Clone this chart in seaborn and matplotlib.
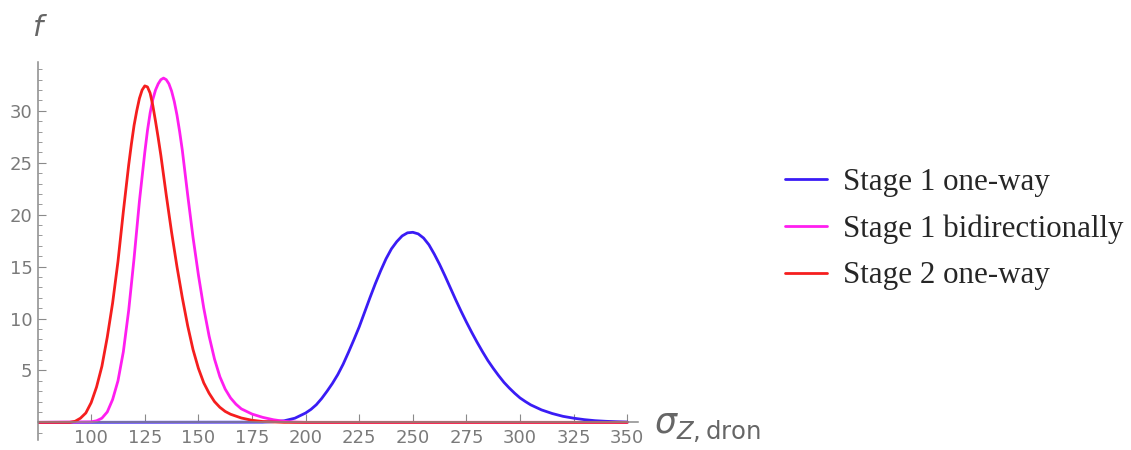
import numpy as np
import pandas as pd
import seaborn as sns
import matplotlib.pyplot as plt
from matplotlib.ticker import FixedLocator

# values
stage1_oneway_x = [75, 180, 185, 190, 195, 200, 202.5, 205, 207.5, 210, 212.5, 215, 217.5, 220, 222.5,
                   225, 227.5, 230, 232.5, 235, 237.5, 240, 242.5, 245, 247.5, 250, 252.5, 255, 257.5,
                   260, 262.5, 265, 267.5, 270, 272.5, 275, 277.5, 280, 282.5, 285, 287.5, 290, 292.5,
                   295, 297.5, 300, 302.5, 305, 310, 315, 320, 325, 330, 335, 340, 345, 350]
stage1_oneway_f = [0, 0.02, 0.06, 0.15, 0.4, 0.9, 1.25, 1.7, 2.3, 3.0, 3.75, 4.6, 5.6, 6.75, 7.95,
                   9.2, 10.6, 12.0, 13.35, 14.6, 15.75, 16.7, 17.4, 17.95, 18.25, 18.3, 18.15, 17.75, 17.1,
                   16.2, 15.2, 14.1, 12.95, 11.8, 10.7, 9.65, 8.65, 7.7, 6.8, 5.95, 5.2, 4.5, 3.85,
                   3.3, 2.8, 2.35, 2.0, 1.68, 1.2, 0.85, 0.58, 0.4, 0.26, 0.16, 0.1, 0.06, 0.03]

stage1_bidir_x = [75, 100, 102.5, 105, 107.5, 110, 112.5, 115, 117.5, 120, 122.5, 125, 126.25, 127.5,
                  128.75, 130, 131.25, 132.5, 133.75, 135, 136.25, 137.5, 138.75, 140, 141.25, 142.5,
                  145, 147.5, 150, 152.5, 155, 157.5, 160, 162.5, 165, 167.5, 170, 175, 180, 185, 190,
                  195, 200, 350]
stage1_bidir_f = [0, 0.05, 0.15, 0.4, 1.0, 2.2, 4.0, 6.8, 10.8, 15.8, 21.3, 26.0, 28.1, 29.8,
                  31.1, 32.0, 32.6, 33.0, 33.15, 33.0, 32.6, 31.9, 30.9, 29.6, 28.0, 26.2,
                  21.9, 17.8, 14.2, 11.0, 8.3, 6.1, 4.4, 3.2, 2.35, 1.75, 1.3, 0.8, 0.48, 0.25, 0.1,
                  0.03, 0, 0]

stage2_oneway_x = [75, 90, 92.5, 95, 97.5, 100, 102.5, 105, 107.5, 110, 112.5, 115, 117.5, 118.75,
                   120, 121.25, 122.5, 123.75, 125, 126.25, 127.5, 128.75, 130, 131.25, 132.5, 135,
                   137.5, 140, 142.5, 145, 147.5, 150, 152.5, 155, 157.5, 160, 162.5, 165, 170, 175,
                   180, 190, 350]
stage2_oneway_f = [0, 0, 0.1, 0.4, 0.9, 1.9, 3.4, 5.4, 8.2, 11.5, 15.5, 20.3, 24.8, 26.8,
                   28.6, 30.0, 31.2, 32.0, 32.4, 32.3, 31.7, 30.5, 29.0, 27.4, 25.7, 21.9,
                   18.3, 15.0, 12.0, 9.3, 7.0, 5.2, 3.8, 2.8, 2.0, 1.45, 1.05, 0.78, 0.42, 0.2,
                   0.08, 0, 0]

labels = ["Stage 1 one-way", "Stage 1 bidirectionally", "Stage 2 one-way"]
colors = ["#3a1cf5", "#ff1ef0", "#f51e1e"]

df = pd.concat([
    pd.DataFrame({"sigma": stage1_oneway_x, "f": stage1_oneway_f, "serie": labels[0]}),
    pd.DataFrame({"sigma": stage1_bidir_x, "f": stage1_bidir_f, "serie": labels[1]}),
    pd.DataFrame({"sigma": stage2_oneway_x, "f": stage2_oneway_f, "serie": labels[2]}),
])

sns.set_style("white")
fig = plt.figure(figsize=(11.31, 4.5), dpi=100)
ax = fig.add_axes([38 / 1131, 10 / 450, 600 / 1131, 378 / 450])

sns.lineplot(data=df, x="sigma", y="f", hue="serie", hue_order=labels,
             palette=colors, linewidth=2.0, estimator=None, sort=False, ax=ax)
for line in ax.get_lines():
    line.set_solid_joinstyle("round")

ax.set_xlim(75.2, 355)
ax.set_ylim(-1.7, 34.7)

gray = "#8a8a8a"
for s in ["top", "right"]:
    ax.spines[s].set_visible(False)
ax.spines["bottom"].set_position(("data", 0))
for s in ["left", "bottom"]:
    ax.spines[s].set_color(gray)
    ax.spines[s].set_linewidth(1.1)

ax.xaxis.set_major_locator(FixedLocator(range(100, 351, 25)))
ax.yaxis.set_major_locator(FixedLocator(range(5, 31, 5)))
ax.yaxis.set_minor_locator(FixedLocator([v for v in range(-1, 35) if v % 5 != 0]))
ax.tick_params(axis="x", direction="in", length=6, color=gray, labelcolor="#7a7a7a",
               labelsize=13, pad=5, bottom=True)
ax.tick_params(axis="y", which="major", direction="in", length=6, color=gray,
               labelcolor="#7a7a7a", labelsize=13, pad=4, left=True)
ax.tick_params(axis="y", which="minor", direction="in", length=3, color=gray, left=True)
ax.set_xlabel("")
ax.set_ylabel("")

fig.text(37 / 1131, 1 - 28 / 450, "f", fontsize=21, style="italic", color="#666666",
         ha="center", va="center")
fig.text(654 / 1131, 1 - 428 / 450, r"$\sigma_{Z,\mathrm{dron}}$", fontsize=25,
         color="#666666", ha="left", va="center")

ax.legend(loc="center left", bbox_to_anchor=(770 / 1131, 1 - 229 / 450),
          bbox_transform=fig.transFigure, frameon=False, borderpad=0,
          prop={"family": "Liberation Serif", "size": 22.3},
          handlelength=1.35, handletextpad=0.5, labelspacing=0.57)

plt.savefig("out.png", dpi=100)
